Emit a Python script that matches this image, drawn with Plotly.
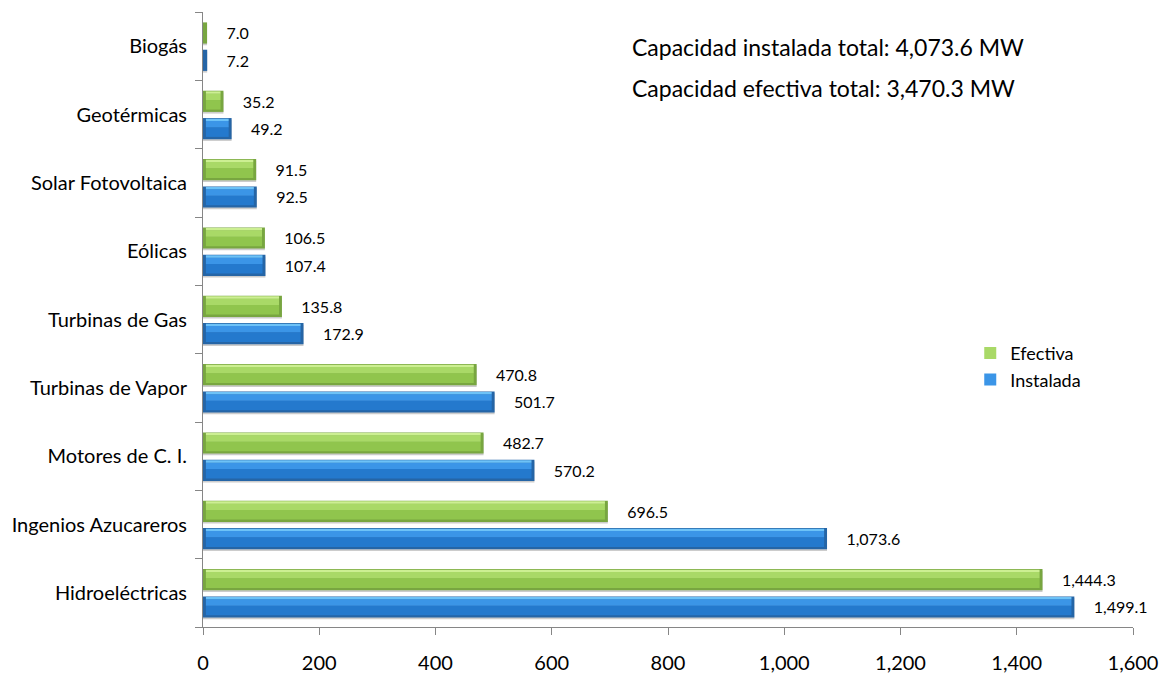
import plotly.graph_objects as go

# Generation technologies, listed top to bottom as they appear on the chart
categorias = [
    "Biogás",
    "Geotérmicas",
    "Solar Fotovoltaica",
    "Eólicas",
    "Turbinas de Gas",
    "Turbinas de Vapor",
    "Motores de C. I.",
    "Ingenios Azucareros",
    "Hidroeléctricas",
]
efectiva = [7.0, 35.2, 91.5, 106.5, 135.8, 470.8, 482.7, 696.5, 1444.3]
instalada = [7.2, 49.2, 92.5, 107.4, 172.9, 501.7, 570.2, 1073.6, 1499.1]

total_instalada = "Capacidad instalada total: 4,073.6 MW"
total_efectiva = "Capacidad efectiva total: 3,470.3 MW"

FONT = "Lato, 'Open Sans', sans-serif"
AXIS_GREY = "#868686"
NBSP = "\u00a0"

# y categories go bottom-up on the axis, so flip the top-down lists
cats = categorias[::-1]
series = [
    # name, values, center offset, palette (shadow, edge, lower, upper, highlight)
    ("Instalada", instalada[::-1], -0.207,
     ("#cccccc", "#2565a6", "#2479cd", "#3b95e7", "#6dc2f7")),
    ("Efectiva", efectiva[::-1], 0.193,
     ("#cccccc", "#78a640", "#90c54d", "#a9d967", "#ccef92")),
]

W = 0.31      # bar thickness in category units
CHAMFER = 5   # bevel inset at the bar ends, in MW units

fig = go.Figure()
for rank, (name, vals, center, pal) in enumerate(series):
    shadow, edge, lower, upper, hi = pal
    base = center - W / 2
    inner = [max(v - 2 * CHAMFER, 0) for v in vals]
    # soft drop shadow below the bar
    fig.add_trace(go.Bar(
        y=cats, x=vals, orientation="h", width=W, offset=base - 0.025,
        marker=dict(color=shadow, line=dict(width=0)),
        showlegend=False, hoverinfo="skip",
    ))
    # bevel edge, carries the value label
    fig.add_trace(go.Bar(
        y=cats, x=vals, orientation="h", width=W, offset=base,
        marker=dict(color=edge, line=dict(width=0)),
        text=[NBSP * 4 + f"{v:,.1f}" for v in vals],
        textposition="outside", constraintext="none", cliponaxis=False,
        textfont=dict(family=FONT, size=16, color="#000000"),
        showlegend=False, hoverinfo="skip",
    ))
    # lower body band
    fig.add_trace(go.Bar(
        y=cats, x=inner, base=CHAMFER, orientation="h",
        width=W * 0.45, offset=base + W * 0.11,
        marker=dict(color=lower, line=dict(width=0)),
        showlegend=False, hoverinfo="skip",
    ))
    # upper body band (legend entry)
    fig.add_trace(go.Bar(
        y=cats, x=inner, base=CHAMFER, orientation="h",
        width=W * 0.30, offset=base + W * 0.56,
        marker=dict(color=upper, line=dict(width=0)),
        name=name, legendrank=2 - rank, showlegend=True, hoverinfo="skip",
    ))
    # light top highlight
    fig.add_trace(go.Bar(
        y=cats, x=inner, base=CHAMFER, orientation="h",
        width=W * 0.11, offset=base + W * 0.86,
        marker=dict(color=hi, line=dict(width=0)),
        showlegend=False, hoverinfo="skip",
    ))

fig.update_layout(
    width=1170, height=686, autosize=False,
    margin=dict(l=202, r=31, t=12, b=44),
    barmode="overlay",
    paper_bgcolor="white", plot_bgcolor="white",
    font=dict(family=FONT, size=20, color="#000000"),
    showlegend=True,
    legend=dict(
        x=0.825, y=0.475, xanchor="left", yanchor="top",
        font=dict(family=FONT, size=18, color="#000000"),
        bgcolor="rgba(0,0,0,0)", itemwidth=30, tracegroupgap=0,
    ),
    xaxis=dict(
        range=[0, 1600], dtick=200, tickformat=",",
        showline=True, linecolor=AXIS_GREY, linewidth=1,
        ticks="outside", ticklen=7, tickcolor=AXIS_GREY,
        showgrid=False, zeroline=False,
        tickfont=dict(family=FONT, size=20, color="#000000"),
        ticklabelstandoff=11,
    ),
    yaxis=dict(
        type="category", categoryorder="array", categoryarray=cats,
        range=[-0.5, 8.5],
        showline=True, linecolor=AXIS_GREY, linewidth=1,
        ticks="outside", ticklen=7, tickcolor=AXIS_GREY, tickson="boundaries",
        showgrid=False, zeroline=False,
        tickfont=dict(family=FONT, size=20, color="#000000"),
        ticklabelstandoff=11,
    ),
    annotations=[
        dict(text=total_instalada, xref="paper", yref="paper", x=0.4588, y=0.943,
             xanchor="left", yanchor="middle", showarrow=False,
             font=dict(family=FONT, size=23, color="#000000")),
        dict(text=total_efectiva, xref="paper", yref="paper", x=0.4588, y=0.876,
             xanchor="left", yanchor="middle", showarrow=False,
             font=dict(family=FONT, size=23, color="#000000")),
    ],
)

fig.write_html("out.html")
